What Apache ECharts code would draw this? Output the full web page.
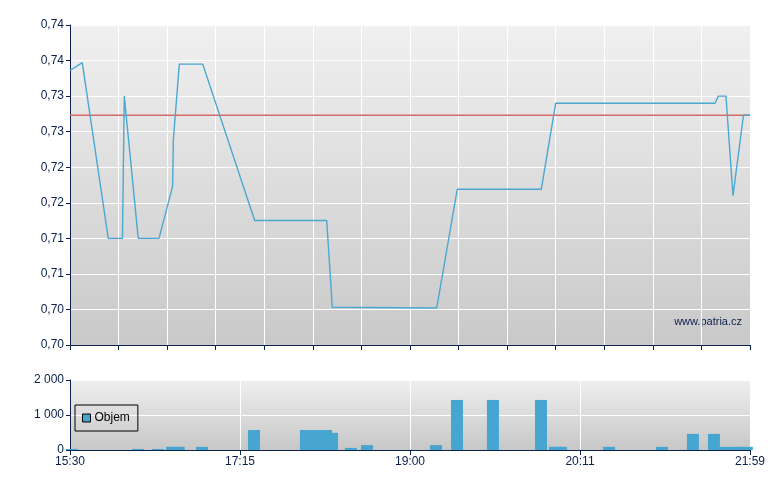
<!DOCTYPE html>
<html>
<head>
<meta charset="utf-8">
<script src="https://cdn.jsdelivr.net/npm/echarts@6/dist/echarts.min.js"></script>
<style>
html,body{margin:0;padding:0;background:#fff;}
#chart{width:780px;height:490px;}
</style>
</head>
<body>
<div id="chart"></div>
<script>
// ---- data ----
// x positions are trade-slot positions on a 0..56 index axis
var xTickLabels = ['15:30', '17:15', '19:00', '20:11', '21:59'];
var priceTickLabels = ['0,70', '0,70', '0,71', '0,71', '0,72', '0,72', '0,73', '0,73', '0,74', '0,74'];
var volumeTickLabels = ['0', '1 000', '2 000'];

var priceX = [0, 1.01, 3.15, 4.32, 4.47, 5.62, 7.33, 8.45, 8.51, 9.0, 10.93, 15.21, 21.14, 21.6, 30.2, 31.89, 38.81, 40.0, 53.12, 53.39, 54.02, 54.6, 55.46, 56];
var priceY = [0.7386, 0.7397, 0.7150, 0.7150, 0.7350, 0.7150, 0.7150, 0.7223, 0.7288, 0.7395, 0.7395, 0.7175, 0.7175, 0.7053, 0.7052, 0.7219, 0.7219, 0.7340, 0.7340, 0.7350, 0.7350, 0.7210, 0.7323, 0.7323];

var refLevel = 0.7323;

var volumeX = [0.14, 5.6, 7.25, 8.4, 8.95, 10.87, 15.15, 21.58, 19.43, 20.26, 21.08, 23.14, 24.46, 30.14, 31.87, 34.83, 38.79, 39.94, 40.43, 44.39, 48.75, 51.3, 53.03, 54.02, 55.0, 55.74];
var volumeY = [30, 30, 30, 90, 90, 90, 570, 490, 570, 570, 570, 60, 140, 140, 1430, 1430, 1430, 90, 90, 90, 90, 460, 460, 90, 90, 90];

// ---- build ----
var priceData = priceX.map(function (x, i) { return [x, priceY[i]]; });
var volumeData = volumeX.map(function (x, i) { return [x, volumeY[i]]; });

var navy = '#0B2152';
var textColor = '#0B1F4D';
var font = 'Arial, "Liberation Sans", sans-serif';

function bg(top, bottom) {
  return new echarts.graphic.LinearGradient(0, 0, 0, 1, [
    {offset: 0, color: top}, {offset: 1, color: bottom}
  ]);
}

var chart = echarts.init(document.getElementById('chart'), null, {renderer: 'canvas'});
chart.setOption({
  animation: false,
  textStyle: {fontFamily: font},
  grid: [
    {left: 70, right: 30, top: 25, bottom: 145, show: true, borderWidth: 0, backgroundColor: bg('#F0F0F0', '#C9C9C9')},
    {left: 70, right: 30, top: 380, bottom: 40, show: true, borderWidth: 0, backgroundColor: bg('#EFEFEF', '#C7C7C7')}
  ],
  xAxis: [
    {
      type: 'value', gridIndex: 0, min: 0, max: 56, interval: 4,
      axisLine: {show: true, onZero: false, lineStyle: {color: navy, width: 1}},
      axisTick: {show: true, length: 5, lineStyle: {color: navy}},
      axisLabel: {show: false},
      splitLine: {show: true, lineStyle: {color: '#FFFFFF', width: 1}}
    },
    {
      type: 'value', gridIndex: 1, min: 0, max: 56, interval: 14,
      axisLine: {show: true, onZero: false, lineStyle: {color: navy, width: 1}},
      axisTick: {show: true, length: 5, lineStyle: {color: navy}},
      axisLabel: {
        show: true, margin: 6, color: textColor, fontSize: 12, fontFamily: font,
        formatter: function (v) { return xTickLabels[Math.round(v / 14)]; }
      },
      splitLine: {show: true, lineStyle: {color: '#FFFFFF', width: 1}}
    }
  ],
  yAxis: [
    {
      type: 'value', gridIndex: 0, min: 0.70, max: 0.745, interval: 0.005,
      axisLine: {show: true, lineStyle: {color: navy, width: 1}},
      axisTick: {show: true, length: 4, lineStyle: {color: navy}},
      axisLabel: {
        margin: 6, color: textColor, fontSize: 12, fontFamily: font,
        formatter: function (v) { return priceTickLabels[Math.round((v - 0.70) / 0.005)]; }
      },
      splitLine: {show: true, lineStyle: {color: '#FFFFFF', width: 1}}
    },
    {
      type: 'value', gridIndex: 1, min: 0, max: 2000, interval: 1000,
      axisLine: {show: true, lineStyle: {color: navy, width: 1}},
      axisTick: {show: true, length: 4, lineStyle: {color: navy}},
      axisLabel: {
        margin: 6, color: textColor, fontSize: 12, fontFamily: font,
        formatter: function (v) { return volumeTickLabels[Math.round(v / 1000)]; }
      },
      splitLine: {show: true, lineStyle: {color: '#FFFFFF', width: 1}}
    }
  ],
  legend: {
    data: ['Objem'],
    left: 75, top: 405,
    orient: 'vertical',
    borderColor: '#000', borderWidth: 1,
    padding: [7, 8, 7, 7],
    itemWidth: 8, itemHeight: 8, itemGap: 4,
    icon: 'rect',
    itemStyle: {borderColor: '#000', borderWidth: 1},
    textStyle: {color: '#000', fontSize: 12, fontFamily: font, padding: [0, 0, 0, -1]}
  },
  graphic: [{
    type: 'text', right: 38, top: 316, silent: true,
    style: {text: 'www.patria.cz', fill: textColor, font: '11px ' + font}
  }],
  series: [
    {
      name: 'ref', type: 'line', xAxisIndex: 0, yAxisIndex: 0, silent: true,
      data: [[0, refLevel], [56, refLevel]], showSymbol: false, z: 2,
      lineStyle: {color: '#D56A6A', width: 1.5}
    },
    {
      name: 'Cena', type: 'line', xAxisIndex: 0, yAxisIndex: 0, silent: true,
      data: priceData, showSymbol: false, z: 3,
      lineStyle: {color: '#4BA8D2', width: 1.4}
    },
    {
      name: 'Objem', type: 'bar', xAxisIndex: 1, yAxisIndex: 1, silent: true,
      data: volumeData, barWidth: 12, clip: true,
      itemStyle: {color: '#46A6CF'}
    }
  ]
});
</script>
</body>
</html>
